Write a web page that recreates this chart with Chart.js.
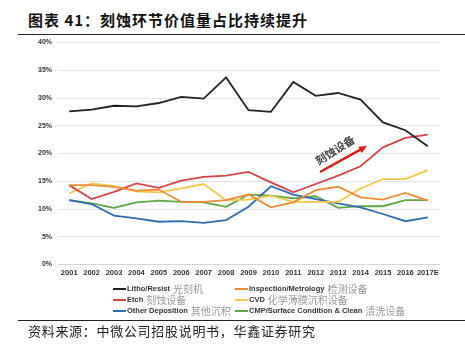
<!DOCTYPE html>
<html>
<head>
<meta charset="utf-8">
<script src="https://cdn.jsdelivr.net/npm/chart.js@4.4.0/dist/chart.umd.min.js"></script>
<style>
  body { margin: 0; background: #fff; }
  #wrap { position: relative; width: 465px; height: 352px; overflow: hidden; font-family: "Liberation Sans", Arial, sans-serif; }
  #title { position: absolute; left: 28px; top: 9px; font: bold 15px "Noto Sans CJK SC"; letter-spacing: 1px; color: #111; white-space: nowrap; }
  .rule { position: absolute; left: 18px; right: 0; height: 1px; background: #222; }
  #source { position: absolute; left: 28px; top: 321px; font: 13px "Noto Sans CJK SC"; letter-spacing: 0.7px; color: #222; white-space: nowrap; }
  #chart { position: absolute; left: 0; top: 0; }
  .leg { position: absolute; white-space: nowrap; line-height: 11px; height: 11px; }
  .leg .sw { display: inline-block; width: 13px; height: 2px; vertical-align: middle; margin-right: 1px; }
  .leg .en { font: bold 7.5px "Liberation Sans", Arial; color: #333; vertical-align: middle; }
  .leg .zh { font: 10px "Noto Sans CJK SC"; color: #999; vertical-align: middle; margin-left: 3px; }
</style>
</head>
<body>
<div id="wrap">
  <div id="title">图表 41：刻蚀环节价值量占比持续提升</div>
  <div class="rule" style="top:34px"></div>
  <canvas id="chart" width="465" height="282"></canvas>
  <div id="legend"></div>
  <div class="rule" style="top:320px"></div>
  <div id="source">资料来源：中微公司招股说明书，华鑫证券研究</div>
</div>
<script>
const years = ['2001','2002','2003','2004','2005','2006','2007','2008','2009','2010','2011','2012','2013','2014','2015','2016','2017E'];
const yTicks = [0, 5, 10, 15, 20, 25, 30, 35, 40];

const litho = [27.6, 27.9, 28.6, 28.5, 29.1, 30.2, 29.9, 33.7, 27.8, 27.5, 32.9, 30.4, 30.9, 29.7, 25.6, 24.2, 21.3];
const inspection = [14.3, 14.3, 14.0, 13.3, 13.5, 11.3, 11.3, 11.6, 12.6, 10.3, 11.2, 13.4, 14.0, 12.1, 11.7, 12.9, 11.5];
const etch = [14.3, 11.8, 13.1, 14.6, 13.8, 15.1, 15.8, 16.0, 16.7, 14.8, 13.0, 14.5, 16.0, 17.7, 21.1, 22.8, 23.4];
const cvd = [12.8, 14.6, 14.1, 13.2, 13.0, 13.7, 14.5, 11.6, 11.7, 12.4, 11.3, 11.3, 11.3, 13.7, 15.4, 15.4, 17.0];
const otherDep = [11.6, 10.9, 8.8, 8.3, 7.7, 7.8, 7.5, 8.0, 10.4, 14.1, 12.6, 11.8, 11.0, 10.3, 9.1, 7.8, 8.5];
const cmp = [11.6, 11.0, 10.2, 11.2, 11.5, 11.3, 11.2, 10.4, 12.6, 12.4, 11.9, 12.3, 10.2, 10.5, 10.5, 11.6, 11.6];

const namesEn = ['Litho/Resist', 'Inspection/Metrology', 'Etch', 'CVD', 'Other Deposition', 'CMP/Surface Condition & Clean'];
const namesZh = ['光刻机', '检测设备', '刻蚀设备', '化学薄膜沉积设备', '其他沉积', '清洗设备'];
const colors = ['#222222', '#ee8c35', '#d8434a', '#f2c846', '#2f6db3', '#5ca746'];
const series = [litho, inspection, etch, cvd, otherDep, cmp];

// legend, two columns, drawn in html
const legPos = [[113, 281], [235, 281], [113, 292], [235, 292], [113, 303], [235, 303]];
const legend = document.getElementById('legend');
namesEn.forEach(function (n, i) {
  const d = document.createElement('div');
  d.className = 'leg';
  d.style.left = legPos[i][0] + 'px';
  d.style.top = legPos[i][1] + 'px';
  d.innerHTML = '<span class="sw" style="background:' + colors[i] + '"></span><span class="en">' + n + '</span><span class="zh">' + namesZh[i] + '</span>';
  legend.appendChild(d);
});

const arrowNote = {
  id: 'arrowNote',
  afterDatasetsDraw(chart) {
    const ctx = chart.ctx;
    ctx.save();
    // red arrow
    const x1 = 320, y1 = 172, x2 = 367, y2 = 146;
    const ang = Math.atan2(y2 - y1, x2 - x1);
    ctx.strokeStyle = '#e01b1b';
    ctx.fillStyle = '#e01b1b';
    ctx.lineWidth = 2.5;
    ctx.beginPath();
    ctx.moveTo(x1, y1);
    ctx.lineTo(x2 - 5 * Math.cos(ang), y2 - 5 * Math.sin(ang));
    ctx.stroke();
    ctx.beginPath();
    ctx.moveTo(x2, y2);
    ctx.lineTo(x2 - 8 * Math.cos(ang) + 3.5 * Math.sin(ang), y2 - 8 * Math.sin(ang) - 3.5 * Math.cos(ang));
    ctx.lineTo(x2 - 8 * Math.cos(ang) - 3.5 * Math.sin(ang), y2 - 8 * Math.sin(ang) + 3.5 * Math.cos(ang));
    ctx.closePath();
    ctx.fill();
    // label
    ctx.translate(335, 150);
    ctx.rotate(-0.56);
    ctx.font = 'bold 11px "Noto Sans CJK SC"';
    ctx.fillStyle = '#444';
    ctx.textAlign = 'center';
    ctx.textBaseline = 'middle';
    ctx.fillText('刻蚀设备', 0, 0);
    ctx.restore();
  }
};

new Chart(document.getElementById('chart'), {
  type: 'line',
  data: {
    labels: years,
    datasets: series.map(function (s, i) {
      return {
        label: namesEn[i],
        data: s,
        borderColor: colors[i],
        backgroundColor: colors[i],
        borderWidth: 1.8,
        pointRadius: 0,
        tension: 0,
        fill: false
      };
    })
  },
  options: {
    responsive: false,
    animation: false,
    layout: { padding: { top: 42.5, right: 26, bottom: 0, left: 0 } },
    plugins: { legend: { display: false }, tooltip: { enabled: false } },
    scales: {
      x: {
        offset: true,
        grid: { display: false, drawTicks: false },
        border: { display: true, color: '#d6d6d6' },
        ticks: { color: '#333', font: { family: 'Liberation Sans', size: 7.5, weight: 'bold' }, padding: 4, maxRotation: 0, autoSkip: false },
        afterFit(scale) { scale.height = 17.5; }
      },
      y: {
        min: 0,
        max: 40,
        afterBuildTicks(scale) { scale.ticks = yTicks.map(function (v) { return { value: v }; }); },
        grid: { color: '#e4e4e4', drawTicks: false },
        border: { display: false },
        ticks: { color: '#333', font: { family: 'Liberation Sans', size: 7, weight: 'bold' }, padding: 6, callback: function (v) { return v + '%'; } },
        afterFit(scale) { scale.width = 58; }
      }
    }
  },
  plugins: [arrowNote]
});
</script>
</body>
</html>
